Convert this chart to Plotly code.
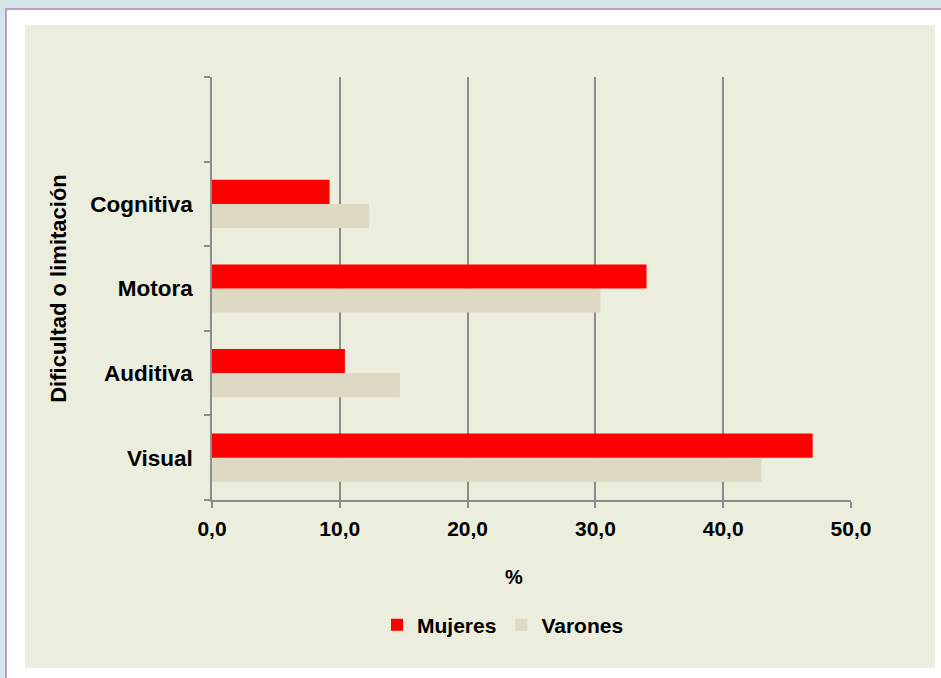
import plotly.graph_objects as go

categories = ["Visual", "Auditiva", "Motora", "Cognitiva"]
mujeres = [47.0, 10.4, 34.0, 9.2]
varones = [43.0, 14.7, 30.4, 12.3]
x_ticks = [0, 10, 20, 30, 40, 50]
x_ticktext = ["0,0", "10,0", "20,0", "30,0", "40,0", "50,0"]

RED = "#ff0000"
TAN = "#ddd9c3"
PANEL = "#ebeedd"
FONT = "Liberation Sans"

ypos = list(range(len(categories)))

fig = go.Figure()
fig.add_trace(go.Bar(y=ypos, x=varones, orientation="h", name="Varones",
                     marker=dict(color=TAN, line=dict(width=0))))
fig.add_trace(go.Bar(y=ypos, x=mujeres, orientation="h", name="Mujeres",
                     marker=dict(color=RED, line=dict(width=0))))

W, H = 941, 678
L, R, T, B = 212, 90, 77, 178
pw, ph = W - L - R, H - T - B

def px(xp):
    return (xp - L) / pw

def py(yp):
    return (H - B - yp) / ph

shapes = [
    dict(type="rect", xref="paper", yref="paper", x0=px(0), x1=px(W), y0=py(0), y1=py(H),
         fillcolor="#d5e4e9", line=dict(width=0), layer="below"),
    dict(type="rect", xref="paper", yref="paper", x0=px(6), x1=px(W + 5), y0=py(9), y1=py(H + 5),
         fillcolor="white", line=dict(width=1.5, color="#b77fb9"), layer="below"),
    dict(type="rect", xref="paper", yref="paper", x0=px(25), x1=px(935), y0=py(25), y1=py(668),
         fillcolor=PANEL, line=dict(width=0), layer="below"),
]

fig.update_layout(
    width=W, height=H,
    margin=dict(l=L, r=R, t=T, b=B, pad=0),
    paper_bgcolor="white",
    plot_bgcolor="white",
    barmode="group",
    bargap=0.43,
    bargroupgap=0,
    font=dict(family=FONT, size=21, color="#000000", weight="bold"),
    shapes=shapes,
    showlegend=True,
    legend=dict(orientation="h", traceorder="reversed", x=px(503), xanchor="center",
                y=py(625), yanchor="middle", bgcolor="rgba(0,0,0,0)",
                font=dict(family=FONT, size=21, color="#000", weight="bold"),
                itemwidth=30),
    annotations=[dict(text="%", xref="paper", yref="paper", x=px(514), y=py(577),
                      xanchor="center", yanchor="middle", showarrow=False,
                      font=dict(family=FONT, size=20, color="#000", weight="bold"))],
    xaxis=dict(
        range=[0, 50], tickvals=x_ticks, ticktext=x_ticktext,
        showgrid=True, gridcolor="#8c8c8c", gridwidth=1.5,
        showline=True, linecolor="#8c8c8c", linewidth=1.5,
        ticks="outside", ticklen=6, tickcolor="#8c8c8c", tickwidth=1.5,
        ticklabelstandoff=3,
        zeroline=False,
        tickfont=dict(family=FONT, size=21, weight="bold"),
    ),
    yaxis=dict(
        range=[-0.5, 4.5], tickvals=ypos, ticktext=categories,
        showgrid=False, zeroline=False,
        showline=True, linecolor="#8c8c8c", linewidth=1.5,
        ticks="", ticklabelstandoff=13,
        minor=dict(tickvals=[-0.5, 0.5, 1.5, 2.5, 3.5, 4.5], ticks="outside", ticklen=6,
                   tickcolor="#8c8c8c", tickwidth=1.5, showgrid=False),
        title=dict(text="Dificultad o limitación", standoff=18,
                   font=dict(family=FONT, size=22, weight="bold")),
        tickfont=dict(family=FONT, size=22.5, weight="bold"),
    ),
)

fig.write_html("out.html", config={"displayModeBar": False},
               post_script="document.body.style.margin='0';")
